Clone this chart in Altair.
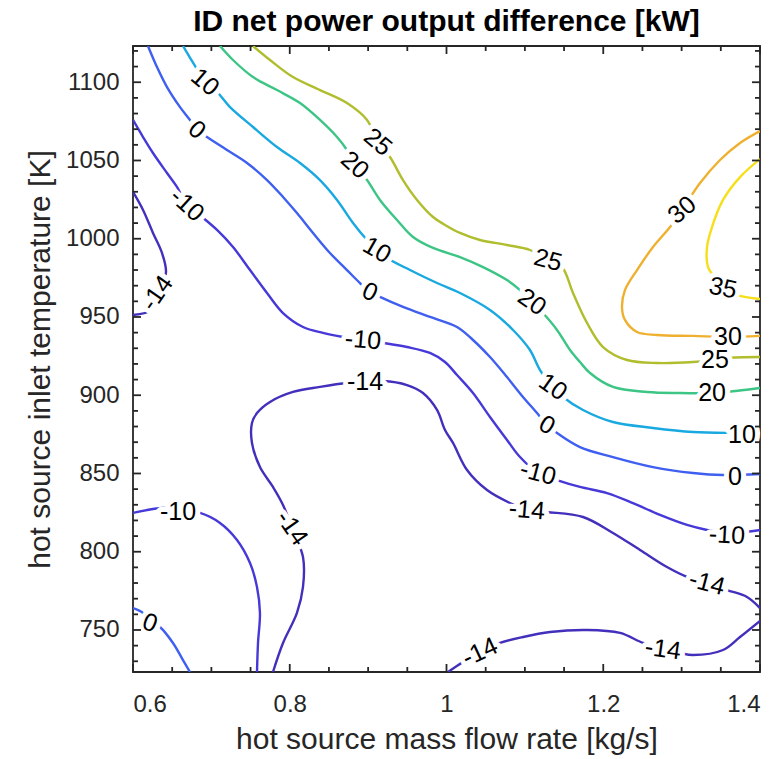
import altair as alt
import pandas as pd

# ---- contour lines (x = mass flow rate [kg/s], y = inlet temperature [K]) ----
levels = ["-14", "-10", "0", "10", "20", "25", "30", "35"]
level_colors = ["#4230bd", "#4639d8", "#3f5ff0", "#19a9e0", "#3cc585", "#b0bd2c", "#efb02f", "#f6df1a"]

c10_x = [0.6638, 0.6791, 0.6919, 0.7072, 0.7238, 0.7531, 0.7837, 0.8131, 0.8386, 0.8603, 0.8807, 0.8986, 0.9113, 0.9241, 0.9534, 0.9879, 1.0172, 1.0555, 1.0849, 1.1065, 1.1193, 1.1359, 1.1486, 1.1742, 1.2124, 1.2635, 1.3145, 1.3656, 1.4]
c10_y = [1123.15, 1110.4, 1100.1, 1093.8, 1084.1, 1071.4, 1058.6, 1048.4, 1037.5, 1024.8, 1010.1, 999.2, 992.8, 987.7, 980.0, 971.7, 965.3, 954.5, 941.7, 928.9, 916.1, 905.3, 898.9, 890.6, 882.9, 879.1, 876.5, 875.9, 875.9]

c0a_x = [0.6191, 0.6306, 0.6434, 0.6600, 0.6727, 0.6817, 0.6944, 0.7199, 0.7455, 0.7710, 0.7914, 0.8092, 0.8297, 0.8513, 0.8730, 0.8896, 0.9024, 0.9151, 0.9445, 0.9789, 1.0134, 1.0338, 1.0555, 1.0772, 1.0976, 1.1155, 1.1282, 1.1410, 1.1703, 1.2124, 1.2635, 1.3145, 1.3528, 1.4]
c0a_y = [1123.15, 1109.7, 1096.9, 1084.1, 1075.9, 1069.5, 1065.0, 1056.7, 1048.4, 1037.5, 1026.7, 1016.4, 1003.7, 990.9, 980.0, 971.7, 966.0, 962.8, 956.4, 950.0, 943.6, 935.3, 924.4, 911.6, 898.9, 888.6, 880.9, 875.9, 866.9, 860.5, 854.1, 850.3, 849.0, 849.7]

c0b_x = [0.6, 0.6128, 0.6217, 0.6344, 0.6510, 0.6638, 0.6727]
c0b_y = [764.0, 760.9, 755.8, 751.9, 741.7, 730.8, 723.15]

c20_x = [0.7110, 0.7276, 0.7531, 0.7837, 0.8131, 0.8386, 0.8603, 0.8730, 0.8832, 0.8986, 0.9151, 0.9368, 0.9573, 0.9828, 1.0172, 1.0466, 1.0772, 1.0938, 1.1091, 1.1231, 1.1410, 1.1576, 1.1703, 1.1831, 1.2124, 1.2558, 1.2979, 1.3388, 1.3579, 1.4]
c20_y = [1123.15, 1114.2, 1103.3, 1095.0, 1086.7, 1075.9, 1065.0, 1056.7, 1047.1, 1037.5, 1024.8, 1012.0, 1001.1, 994.1, 988.3, 981.9, 973.6, 967.2, 959.6, 952.5, 941.7, 928.9, 921.2, 914.2, 905.3, 902.1, 901.4, 901.4, 902.1, 904.6]

c25_x = [0.7531, 0.7748, 0.8041, 0.8386, 0.8730, 0.8986, 0.9126, 0.9279, 0.9445, 0.9624, 0.9828, 0.9981, 1.0172, 1.0427, 1.0772, 1.1065, 1.1295, 1.1474, 1.1614, 1.1793, 1.1997, 1.2303, 1.2686, 1.3145, 1.3426, 1.3579, 1.4]
c25_y = [1123.15, 1114.2, 1103.3, 1095.0, 1086.7, 1075.9, 1061.8, 1052.2, 1037.5, 1024.8, 1013.9, 1008.8, 1003.7, 999.2, 996.0, 992.8, 986.4, 981.9, 965.3, 946.2, 930.8, 922.5, 920.6, 921.2, 922.5, 923.8, 924.4]

c30_x = [1.4, 1.3745, 1.3490, 1.3235, 1.3005, 1.2852, 1.2635, 1.2431, 1.2277, 1.2239, 1.2277, 1.2431, 1.2686, 1.3145, 1.3592, 1.4]
c30_y = [1068.8, 1061.2, 1050.3, 1035.6, 1018.4, 1007.5, 994.7, 980.0, 967.2, 956.4, 948.1, 940.4, 938.5, 937.9, 937.2, 937.9]

c35_x = [1.4, 1.3745, 1.3528, 1.3388, 1.3324, 1.3337, 1.3452, 1.3528, 1.3707, 1.4]
c35_y = [1050.9, 1039.4, 1024.8, 1007.5, 994.7, 981.9, 973.6, 968.5, 964.0, 961.5]

cm10a_x = [0.6, 0.6128, 0.6255, 0.6434, 0.6561, 0.6689, 0.6880, 0.7072, 0.7276, 0.7493, 0.7710, 0.7914, 0.8169, 0.8424, 0.8679, 0.8935, 0.9190, 0.9496, 0.9789, 0.9981, 1.0134, 1.0338, 1.0555, 1.0772, 1.0938, 1.1167, 1.1410, 1.1703, 1.2048, 1.2379, 1.2724, 1.3069, 1.3324, 1.3579, 1.3809, 1.4]
cm10a_y = [1075.9, 1065.0, 1054.8, 1042.0, 1033.1, 1021.6, 1013.9, 1005.6, 994.7, 980.0, 965.3, 952.5, 943.6, 939.8, 937.2, 935.3, 933.4, 930.8, 927.0, 921.2, 912.9, 901.4, 886.1, 871.4, 860.5, 850.3, 845.8, 841.4, 837.5, 831.1, 823.5, 817.1, 813.9, 812.0, 812.6, 813.9]

cm10b_x = [0.6, 0.6383, 0.6574, 0.6855, 0.7110, 0.7327, 0.7493, 0.7582, 0.7620, 0.7595, 0.7582]
cm10b_y = [824.8, 827.9, 826.7, 824.8, 818.4, 807.5, 792.8, 777.5, 760.9, 741.7, 723.15]

cm14a_x = [0.6, 0.6128, 0.6255, 0.6370, 0.6421, 0.6344, 0.6242, 0.6]
cm14a_y = [1029.9, 1018.4, 1003.7, 990.9, 978.7, 966.0, 954.5, 951.3]

cm14b_x = [0.7786, 0.7914, 0.8092, 0.8169, 0.8169, 0.8029, 0.7914, 0.7786, 0.7620, 0.7518, 0.7518, 0.7582, 0.7748, 0.8041, 0.8386, 0.8730, 0.8960, 0.9190, 0.9496, 0.9700, 0.9879, 0.9981, 1.0083, 1.0262, 1.0517, 1.0810, 1.1027, 1.1282, 1.1742, 1.2124, 1.2469, 1.2813, 1.3069, 1.3324, 1.3579, 1.3834, 1.4]
cm14b_y = [723.15, 741.7, 760.9, 777.5, 796.6, 815.2, 829.9, 841.4, 854.1, 869.5, 882.3, 888.6, 895.7, 902.1, 905.3, 907.8, 908.4, 909.1, 906.5, 901.4, 890.6, 877.8, 869.5, 852.2, 839.4, 831.1, 826.7, 825.4, 822.2, 812.0, 801.1, 790.2, 783.9, 780.0, 775.5, 771.1, 764.0]

cm14c_x = [1.4, 1.3745, 1.3528, 1.3145, 1.2979, 1.2762, 1.2507, 1.2214, 1.1793, 1.1321, 1.0976, 1.0683, 1.0427, 1.0211, 1.0019]
cm14c_y = [755.8, 745.5, 737.2, 734.0, 735.3, 737.8, 741.7, 748.1, 750.0, 748.7, 745.5, 741.7, 736.0, 729.5, 723.15]

pieces = [
    ("-14", cm14a_x, cm14a_y), ("-14", cm14b_x, cm14b_y), ("-14", cm14c_x, cm14c_y),
    ("-10", cm10a_x, cm10a_y), ("-10", cm10b_x, cm10b_y),
    ("0", c0a_x, c0a_y), ("0", c0b_x, c0b_y),
    ("10", c10_x, c10_y), ("20", c20_x, c20_y), ("25", c25_x, c25_y),
    ("30", c30_x, c30_y), ("35", c35_x, c35_y),
]

# ---- contour labels ----
label_text = ["10", "0", "-10", "-14", "25", "20", "10", "0", "-10", "25", "20", "30", "35", "30", "25",
              "20", "10", "10", "0", "0", "-10", "-10", "-14", "-14", "-14", "-14", "-14", "-14", "-10", "0"]
label_x = [0.6919, 0.6817, 0.6689, 0.6306, 0.9126, 0.8832, 0.9113, 0.9024, 0.8935, 1.1295, 1.1091, 1.3005, 1.3528, 1.3592, 1.3426,
           1.3388, 1.3770, 1.1359, 1.1282, 1.3681, 1.1167, 1.3579, 0.8960, 0.8029, 1.1027, 1.3324, 1.2762, 1.0427, 0.6574, 0.6217]
label_y = [1100.1, 1069.5, 1021.6, 965.3, 1061.8, 1047.1, 992.8, 966.0, 935.3, 986.4, 959.6, 1018.4, 968.5, 937.2, 922.5,
           901.4, 874.6, 905.3, 880.9, 847.8, 850.3, 810.7, 908.4, 815.2, 826.7, 780.0, 737.8, 736.0, 825.4, 754.5]
label_angle = [40, 40, 42, -55, 40, 42, 30, 25, 5, 15, 35, -40, 12, 0, 0,
               0, 0, 35, 30, 0, 15, 3, 0, 55, 5, 15, 8, -25, 0, 20]

x_major = [0.6, 0.8, 1.0, 1.2, 1.4]
x_minor = [0.65, 0.7, 0.75, 0.85, 0.9, 0.95, 1.05, 1.1, 1.15, 1.25, 1.3, 1.35]
y_major = [750, 800, 850, 900, 950, 1000, 1050, 1100]
y_minor = [730, 740, 760, 770, 780, 790, 810, 820, 830, 840, 860, 870, 880, 890, 910, 920, 930, 940,
           960, 970, 980, 990, 1010, 1020, 1030, 1040, 1060, 1070, 1080, 1090, 1110, 1120]

# ---- tables ----
rows = []
for pid, (lev, xs, ys) in enumerate(pieces):
    for i, (xv, yv) in enumerate(zip(xs, ys)):
        rows.append({"piece": pid, "level": lev, "i": i, "x": xv, "y": yv})
lines_df = pd.DataFrame(rows)
labels_df = pd.DataFrame({"text": label_text, "x": label_x, "y": label_y, "angle": label_angle})

W, H = 627, 626
FONT = "Liberation Sans"
AX = "#262626"
xscale = alt.Scale(domain=[0.6, 1.4], nice=False, zero=False)
yscale = alt.Scale(domain=[723.15, 1123.15], nice=False, zero=False)

xaxis = alt.Axis(values=x_major, format="~g", title="hot source mass flow rate [kg/s]", ticks=False, tickSize=0,
                 domain=False, grid=False, labelFont=FONT, labelFontSize=24, labelColor=AX, labelPadding=20,
                 titleFont=FONT, titleFontSize=30, titleFontWeight="normal", titleColor=AX, titlePadding=8)
yaxis = alt.Axis(values=y_major, format="d", title="hot source inlet temperature [K]", ticks=False, tickSize=0,
                 domain=False, grid=False, labelFont=FONT, labelFontSize=24, labelColor=AX, labelPadding=14,
                 titleFont=FONT, titleFontSize=30, titleFontWeight="normal", titleColor=AX, titlePadding=10)

X = alt.X("x:Q", scale=xscale, axis=xaxis)
Y = alt.Y("y:Q", scale=yscale, axis=yaxis)

lines = alt.Chart(lines_df).mark_line(strokeWidth=2.4, clip=True, interpolate="catmull-rom").encode(
    x=X, y=Y,
    color=alt.Color("level:N", scale=alt.Scale(domain=levels, range=level_colors), legend=None),
    detail="piece:N",
    order="i:Q",
)

halo = alt.Chart(labels_df).mark_text(font=FONT, fontSize=25, stroke="white", strokeWidth=10, fill="white",
                                      align="center", baseline="middle", strokeJoin="round").encode(
    x=X, y=Y, text="text:N", angle=alt.Angle("angle:Q", scale=None),
)
texts = alt.Chart(labels_df).mark_text(font=FONT, fontSize=25, color="black",
                                       align="center", baseline="middle").encode(
    x=X, y=Y, text="text:N", angle=alt.Angle("angle:Q", scale=None),
)


def xticks(values, length):
    d = pd.DataFrame({"x": values})
    bottom = alt.Chart(d).mark_rule(color=AX, strokeWidth=1.8).encode(x=X, y=alt.value(H), y2=alt.value(H - length))
    top = alt.Chart(d).mark_rule(color=AX, strokeWidth=1.8).encode(x=X, y=alt.value(0), y2=alt.value(length))
    return [bottom, top]


def yticks(values, length):
    d = pd.DataFrame({"y": values})
    left = alt.Chart(d).mark_rule(color=AX, strokeWidth=1.8).encode(y=Y, x=alt.value(0), x2=alt.value(length))
    right = alt.Chart(d).mark_rule(color=AX, strokeWidth=1.8).encode(y=Y, x=alt.value(W), x2=alt.value(W - length))
    return [left, right]


tick_layers = xticks(x_major, 8) + xticks(x_minor, 5) + yticks(y_major, 8) + yticks(y_minor, 5)

chart = alt.layer(lines, halo, texts, *tick_layers).properties(
    width=W, height=H,
    autosize=alt.AutoSizeParams(type="none"),
    padding={"left": 133, "top": 46, "right": 21, "bottom": 87},
    title=alt.TitleParams("ID net power output difference [kW]", font=FONT, fontSize=30, fontWeight="bold",
                          color="black", anchor="middle", offset=8),
    background="white",
).configure_view(stroke=AX, strokeWidth=1.8)

chart.save("out.html", embed_options={"renderer": "svg", "actions": False})
